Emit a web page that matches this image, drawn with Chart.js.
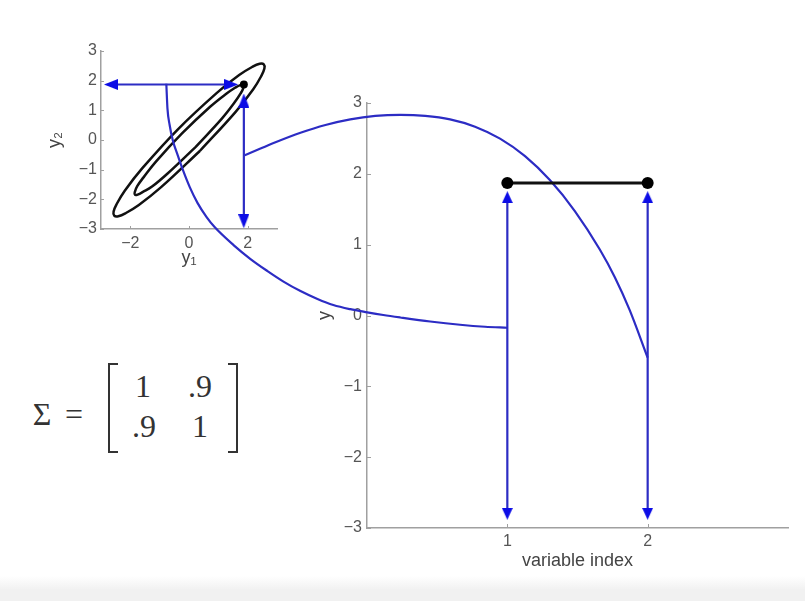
<!DOCTYPE html>
<html lang="en">
  <head>
    <meta charset="UTF-8" />
    <title>Sample from a 2-D Gaussian</title>
    <script src="https://cdn.jsdelivr.net/npm/chart.js"></script>
    <style>
      body { margin: 0; width: 805px; height: 601px; overflow: hidden; position: relative; background: #fff; }
      canvas { position: absolute; left: 0; top: 0; }
      #insetCanvas { z-index: 1; }
      #mainCanvas { z-index: 2; }
      .band { position: absolute; left: 0; top: 576px; width: 805px; height: 25px; background: linear-gradient(#fff, #f1f1f1 55%); }
      .tex { position: absolute; width: 40px; text-align: center; font-family: "Liberation Serif", "DejaVu Serif", serif; font-size: 32px; line-height: 32px; color: #333; }
      .br { position: absolute; top: 363px; width: 8px; height: 86px; border: 2px solid #333; }
      .br.l { left: 108px; border-right: none; }
      .br.r { left: 228px; border-left: none; }
    </style>
  </head>
  <body>
    <div class="band"></div>
    <canvas id="insetCanvas" width="300" height="300"></canvas>
    <canvas id="mainCanvas" width="805" height="601"></canvas>
    <div id="formula">
      <span class="tex" style="left:22px; top:398px">&Sigma;</span>
      <span class="tex" style="left:54px; top:398px">=</span>
      <span class="br l"></span>
      <span class="br r"></span>
    </div>

    <script>
      // sampled values (one sample of a 2-d gaussian)
      const varIndex = [1, 2];
      const sampleY = [1.87, 1.87];
      const sigma = [[1, 0.9], [0.9, 1]];

      // tick labels
      const mainXTicks = [1, 2];
      const mainYTicks = [-3, -2, -1, 0, 1, 2, 3];
      const insetXTicks = [-2, 0, 2];
      const insetYTicks = [-3, -2, -1, 0, 1, 2, 3];

      // contours in the small plot (y1, y2)
      const outerX = [0.37, 1.59, 2.19, 2.46, 2.57, 2.55, 2.41, 2.15, 1.71, 0.95, -0.37, -1.59, -2.19, -2.46, -2.57, -2.55, -2.41, -2.15, -1.71, -0.95, 0.37];
      const outerY = [-0.37, 0.95, 1.71, 2.15, 2.41, 2.55, 2.57, 2.46, 2.19, 1.59, 0.37, -0.95, -1.71, -2.15, -2.41, -2.55, -2.57, -2.46, -2.19, -1.59, -0.37];
      const innerX = [0.23, 1.12, 1.55, 1.76, 1.85, 1.84, 1.75, 1.57, 1.26, 0.72, -0.23, -1.12, -1.55, -1.76, -1.85, -1.84, -1.75, -1.57, -1.26, -0.72, 0.23];
      const innerY = [-0.23, 0.72, 1.26, 1.57, 1.75, 1.84, 1.85, 1.76, 1.55, 1.12, 0.23, -0.72, -1.26, -1.55, -1.76, -1.85, -1.84, -1.75, -1.57, -1.12, -0.23];

      // arrow ends in the small plot
      const hArrowX = [-2.66, 1.44];
      const vArrowY = [-2.74, 1.33];
      // arrow ends in the big plot
      const mainArrowLow = -2.8;
      const mainArrowGap = 0.2;

      // connector curves, in units of the big plot
      const link1X = [-1.43, -1.422, -1.406, -1.384, -1.349, -1.31, -1.263, -1.207, -1.143, -1.086, -0.951, -0.83, -0.709, -0.595, -0.474, -0.353, -0.24, -0.119, 0.002, 0.116, 0.237, 0.45, 0.663, 0.841, 1.0];
      const link1Y = [3.271, 2.925, 2.686, 2.474, 2.263, 2.044, 1.812, 1.586, 1.389, 1.248, 0.994, 0.797, 0.627, 0.479, 0.345, 0.233, 0.148, 0.089, 0.045, 0.007, -0.028, -0.085, -0.131, -0.159, -0.173];
      const link2X = [-0.871, -0.759, -0.652, -0.474, -0.296, -0.119, 0.059, 0.237, 0.415, 0.592, 0.77, 0.948, 1.126, 1.303, 1.481, 1.659, 1.766, 1.872, 2.0];
      const link2Y = [2.263, 2.357, 2.446, 2.58, 2.69, 2.769, 2.817, 2.832, 2.818, 2.769, 2.666, 2.497, 2.25, 1.912, 1.475, 0.932, 0.541, 0.076, -0.596];

      const BLUE = '#2c2cc4';
      const HEAD = '#0c0ce6';
      const AXIS = '#a0a0a0';
      const sans = "'Liberation Sans', Arial, sans-serif";
      const tickFont = { family: sans, size: 16 };
      const titleFont = { family: sans, size: 18 };

      // matrix entries as text
      const formula = document.getElementById('formula');
      const cellX = [[143, 200], [144, 200]];
      const rowTop = [370, 410];
      sigma.forEach((row, i) => row.forEach((v, j) => {
        const s = document.createElement('span');
        s.className = 'tex';
        s.style.left = (cellX[i][j] - 20) + 'px';
        s.style.top = rowTop[i] + 'px';
        s.textContent = v === 1 ? '1' : String(v).replace('0.', '.');
        formula.appendChild(s);
      }));

      function fmt(v) {
        return v < 0 ? '\u2212' + Math.abs(v) : String(v);
      }

      function pts(xs, ys) {
        return xs.map((x, i) => ({ x: x, y: ys[i] }));
      }

      function arrowHead(w, h) {
        const c = document.createElement('canvas');
        c.width = w;
        c.height = h;
        const g = c.getContext('2d');
        g.fillStyle = HEAD;
        g.beginPath();
        g.moveTo(w / 2, 0);
        g.lineTo(w, h);
        g.lineTo(0, h);
        g.closePath();
        g.fill();
        return c;
      }
      const bigHead = arrowHead(11, 12);
      const smallHead = arrowHead(11, 14);

      // matlab style ticks pointing into the plot
      const inwardTicks = {
        id: 'inwardTicks',
        beforeDatasetsDraw(chart, args, opts) {
          const ctx = chart.ctx;
          const { left, bottom } = chart.chartArea;
          ctx.save();
          ctx.strokeStyle = opts.color;
          ctx.lineWidth = 1;
          ctx.beginPath();
          opts.x.forEach(v => {
            const px = Math.round(chart.scales.x.getPixelForValue(v)) + 0.5;
            ctx.moveTo(px, bottom);
            ctx.lineTo(px, bottom - opts.len);
          });
          opts.y.forEach(v => {
            const py = Math.round(chart.scales.y.getPixelForValue(v)) + 0.5;
            ctx.moveTo(left, py);
            ctx.lineTo(left + opts.len, py);
          });
          ctx.stroke();
          ctx.restore();
        }
      };

      function axis(extra) {
        return Object.assign({
          type: 'linear',
          grid: { display: false, drawTicks: false },
          border: { display: true, color: AXIS, width: 1.5 },
          ticks: { color: '#555', font: tickFont, callback: fmt }
        }, extra);
      }

      function link(xs, ys) {
        return {
          data: pts(xs, ys),
          showLine: true,
          borderColor: BLUE,
          borderWidth: 2.2,
          pointRadius: 0,
          cubicInterpolationMode: 'monotone',
          capBezierPoints: false,
          clip: false
        };
      }

      // big plot: values against variable index
      new Chart(document.getElementById('mainCanvas'), {
        type: 'scatter',
        data: {
          datasets: [
            {
              data: pts(varIndex, sampleY),
              showLine: true,
              borderColor: '#111',
              borderWidth: 3,
              pointRadius: 6,
              pointBackgroundColor: '#000',
              pointBorderWidth: 0
            },
            ...varIndex.map((v, i) => ({
              data: [{ x: v, y: mainArrowLow }, { x: v, y: sampleY[i] - mainArrowGap }],
              showLine: true,
              borderColor: BLUE,
              borderWidth: 2.2,
              pointStyle: bigHead,
              pointRotation: [180, 0],
              pointRadius: 6
            })),
            link(link1X, link1Y),
            link(link2X, link2Y)
          ]
        },
        options: {
          responsive: false,
          animation: false,
          layout: { padding: { left: 314, right: 17, top: 103, bottom: 29 } },
          plugins: {
            legend: { display: false },
            tooltip: { enabled: false },
            inwardTicks: { x: mainXTicks, y: mainYTicks, len: 4, color: AXIS }
          },
          scales: {
            x: axis({
              afterDataLimits(s) { s.min = 0; s.max = 3; },
              afterBuildTicks(s) { s.ticks = mainXTicks.map(v => ({ value: v })); },
              afterFit(s) { s.height = 44; },
              ticks: { color: '#555', font: tickFont, padding: 4, callback: fmt },
              title: { display: true, text: 'variable index', color: '#444', font: titleFont, padding: 0 }
            }),
            y: axis({
              min: -3,
              max: 3,
              afterBuildTicks(s) { s.ticks = mainYTicks.map(v => ({ value: v })); },
              afterFit(s) { s.width = 53; },
              ticks: { color: '#555', font: tickFont, padding: 5, callback: fmt },
              title: { display: true, text: 'y', color: '#444', font: titleFont, padding: 0 }
            })
          }
        },
        plugins: [inwardTicks]
      });

      // small plot: y2 against y1 with the contours
      new Chart(document.getElementById('insetCanvas'), {
        type: 'scatter',
        data: {
          datasets: [
            {
              data: [{ x: sampleY[0], y: sampleY[1] }],
              pointRadius: 4,
              pointBackgroundColor: '#000',
              pointBorderWidth: 0
            },
            {
              data: hArrowX.map(x => ({ x: x, y: sampleY[1] })),
              showLine: true,
              borderColor: BLUE,
              borderWidth: 2.2,
              pointStyle: smallHead,
              pointRotation: [270, 90],
              pointRadius: 6
            },
            {
              data: vArrowY.map(y => ({ x: sampleY[0], y: y })),
              showLine: true,
              borderColor: BLUE,
              borderWidth: 2.2,
              pointStyle: smallHead,
              pointRotation: [180, 0],
              pointRadius: 6
            },
            {
              data: pts(outerX, outerY),
              showLine: true,
              borderColor: '#111',
              borderWidth: 2.5,
              pointRadius: 0,
              tension: 0.4
            },
            {
              data: pts(innerX, innerY),
              showLine: true,
              borderColor: '#111',
              borderWidth: 2.5,
              pointRadius: 0,
              tension: 0.4
            }
          ]
        },
        options: {
          responsive: false,
          animation: false,
          layout: { padding: { left: 44, right: 23, top: 51, bottom: 31 } },
          plugins: {
            legend: { display: false },
            tooltip: { enabled: false },
            inwardTicks: { x: insetXTicks, y: insetYTicks, len: 3, color: AXIS }
          },
          scales: {
            x: axis({
              min: -3,
              max: 3,
              afterBuildTicks(s) { s.ticks = insetXTicks.map(v => ({ value: v })); },
              afterFit(s) { s.height = 40; },
              ticks: { color: '#555', font: tickFont, padding: 5, callback: fmt },
              title: { display: true, text: 'y\u2081', color: '#444', font: titleFont, padding: 0 }
            }),
            y: axis({
              min: -3,
              max: 3,
              afterBuildTicks(s) { s.ticks = insetYTicks.map(v => ({ value: v })); },
              afterFit(s) { s.width = 57; },
              ticks: { color: '#555', font: tickFont, padding: 4, callback: fmt },
              title: { display: true, text: 'y\u2082', color: '#444', font: titleFont, padding: 0 }
            })
          }
        },
        plugins: [inwardTicks]
      });
    </script>
  </body>
</html>
